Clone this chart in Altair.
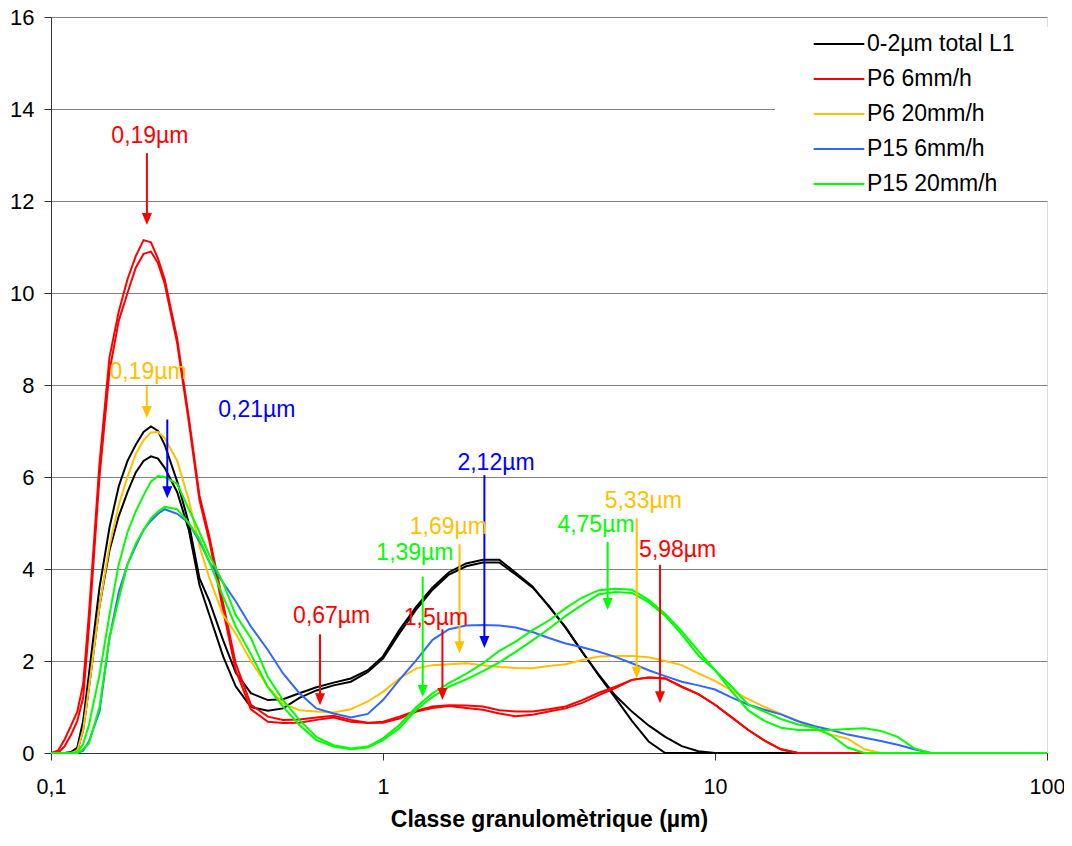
import altair as alt
import pandas as pd

FONT = "Liberation Sans, Arial, sans-serif"

# Particle size classes (µm)
X = [0.10, 0.105, 0.11, 0.115, 0.12, 0.125, 0.13, 0.14, 0.15, 0.16,
     0.17, 0.18, 0.19, 0.20, 0.21, 0.22, 0.24, 0.26, 0.28, 0.30,
     0.33, 0.36, 0.40, 0.45, 0.50, 0.56, 0.63, 0.71, 0.80, 0.90,
     1.00, 1.12, 1.26, 1.41, 1.58, 1.78, 2.00, 2.24, 2.51, 2.82,
     3.16, 3.55, 3.98, 4.47, 5.01, 5.62, 6.31, 7.08, 7.94, 8.91,
     10.0, 11.2, 12.6, 14.1, 15.8, 17.8, 20.0, 22.4, 25.1, 28.2,
     31.6, 35.5, 39.8, 44.7, 50.1, 100.0]

# 0-2µm total L1 (two replicates)
K1 = [0, 0, 0, 0.02, 0.12, 0.7, 1.7, 3.6, 4.9, 5.8,
      6.35, 6.7, 6.98, 7.1, 7.0, 6.7, 5.9, 5.0, 3.8, 3.3,
      2.45, 1.75, 1.3, 1.15, 1.17, 1.3, 1.43, 1.53, 1.62, 1.8,
      2.1, 2.67, 3.18, 3.6, 3.93, 4.12, 4.2, 4.2, 3.92, 3.62,
      3.18, 2.73, 2.2, 1.68, 1.2, 0.7, 0.25, 0, 0, 0,
      0, 0, 0, 0, 0, 0, 0, 0, 0, 0,
      0, 0, 0, 0, 0, 0]
K2 = [0, 0, 0, 0, 0.05, 0.5, 1.4, 3.2, 4.4, 5.15,
      5.67, 6.1, 6.35, 6.45, 6.4, 6.2, 5.67, 4.85, 3.65, 3.0,
      2.1, 1.45, 1.0, 0.92, 0.97, 1.2, 1.36, 1.47, 1.55, 1.76,
      2.05, 2.6, 3.12, 3.55, 3.88, 4.06, 4.14, 4.14, 3.88, 3.6,
      3.2, 2.72, 2.2, 1.7, 1.25, 0.9, 0.6, 0.35, 0.15, 0.04,
      0, 0, 0, 0, 0, 0, 0, 0, 0, 0,
      0, 0, 0, 0, 0, 0]
# P6 6mm/h
R1 = [0, 0.05, 0.3, 0.6, 0.9, 1.5, 3.0, 6.3, 8.6, 9.6,
      10.3, 10.8, 11.15, 11.1, 10.75, 10.3, 9.0, 7.3, 5.6, 4.7,
      3.25, 1.95, 1.05, 0.79, 0.72, 0.73, 0.77, 0.81, 0.72, 0.66,
      0.68, 0.79, 0.92, 1.01, 1.04, 1.03, 1.01, 0.93, 0.9, 0.9,
      0.95, 1.01, 1.15, 1.31, 1.44, 1.59, 1.64, 1.62, 1.44, 1.28,
      1.05, 0.78, 0.5, 0.27, 0.08, 0, 0, 0, 0, 0,
      0, 0, 0, 0, 0, 0]
R2 = [0, 0, 0.15, 0.4, 0.7, 1.2, 2.7, 6.0, 8.3, 9.4,
      10.0, 10.55, 10.85, 10.9, 10.65, 10.2, 8.9, 7.2, 5.5, 4.6,
      3.1, 1.8, 0.95, 0.68, 0.65, 0.66, 0.72, 0.77, 0.68, 0.65,
      0.66, 0.75, 0.9, 0.98, 1.02, 0.98, 0.94, 0.86, 0.8, 0.83,
      0.9, 0.97, 1.09, 1.26, 1.41, 1.59, 1.64, 1.62, 1.44, 1.28,
      1.05, 0.78, 0.5, 0.27, 0.08, 0, 0, 0, 0, 0,
      0, 0, 0, 0, 0, 0]
# P6 20mm/h
O1 = [0, 0, 0, 0, 0.05, 0.5, 1.4, 3.2, 4.5, 5.4,
      6.0, 6.5, 6.8, 6.97, 6.98, 6.85, 6.35, 5.5, 4.5, 3.8,
      3.0, 2.6, 2.0, 1.44, 1.08, 0.93, 0.9, 0.88, 0.95, 1.12,
      1.33, 1.62, 1.84, 1.91, 1.93, 1.95, 1.91, 1.87, 1.85, 1.84,
      1.89, 1.93, 2.02, 2.1, 2.11, 2.11, 2.08, 2.0, 1.91, 1.73,
      1.57, 1.36, 1.17, 1.0, 0.85, 0.69, 0.52, 0.4, 0.31, 0.08,
      0, 0, 0, 0, 0, 0]
# P15 6mm/h
B1 = [0, 0, 0, 0, 0, 0.05, 0.25, 0.9, 2.5, 3.5,
      4.1, 4.5, 4.85, 5.05, 5.2, 5.3, 5.2, 5.0, 4.6, 4.15,
      3.7, 3.3, 2.75, 2.24, 1.73, 1.3, 0.97, 0.86, 0.77, 0.85,
      1.15, 1.59, 2.02, 2.46, 2.69, 2.77, 2.78, 2.77, 2.73, 2.63,
      2.5, 2.38, 2.3, 2.2, 2.09, 1.95, 1.8, 1.67, 1.55, 1.47,
      1.38, 1.21, 1.05, 0.94, 0.84, 0.69, 0.58, 0.5, 0.4, 0.33,
      0.26, 0.18, 0.08, 0, 0, 0]
# P15 20mm/h (two replicates)
G1 = [0, 0, 0, 0, 0.02, 0.2, 0.6, 1.7, 3.0, 4.1,
      4.8, 5.25, 5.6, 5.9, 6.02, 6.0, 5.85, 5.3, 4.8, 4.3,
      3.7, 3.0, 2.5, 1.65, 1.15, 0.72, 0.35, 0.17, 0.1, 0.14,
      0.32, 0.61, 1.0, 1.3, 1.52, 1.72, 1.95, 2.22, 2.42, 2.67,
      2.88, 3.15, 3.38, 3.54, 3.57, 3.55, 3.33, 3.02, 2.65, 2.22,
      1.8, 1.35, 0.92, 0.7, 0.55, 0.5, 0.5, 0.5, 0.52, 0.54,
      0.48, 0.35, 0.1, 0, 0, 0]
G2 = [0, 0, 0, 0, 0, 0.08, 0.2, 1.0, 2.5, 3.35,
      4.1, 4.55, 4.85, 5.1, 5.25, 5.35, 5.3, 5.0, 4.65, 4.15,
      3.4, 2.75, 2.15, 1.43, 1.01, 0.61, 0.28, 0.14, 0.08, 0.12,
      0.28, 0.54, 0.94, 1.22, 1.44, 1.6, 1.78, 1.97, 2.2, 2.45,
      2.7, 2.98, 3.22, 3.45, 3.5, 3.48, 3.28, 2.98, 2.58, 2.12,
      1.8, 1.45, 1.05, 0.9, 0.74, 0.62, 0.55, 0.38, 0.12, 0,
      0, 0, 0, 0, 0, 0]

SERIES = ["0-2µm total L1", "P6 6mm/h", "P6 20mm/h", "P15 6mm/h", "P15 20mm/h"]
COLORS = ["#000000", "#FF0000", "#FFC000", "#3366FF", "#00FF00"]

CURVES = [(SERIES[0], "a", K1), (SERIES[0], "b", K2),
          (SERIES[1], "a", R1), (SERIES[1], "b", R2),
          (SERIES[2], "a", O1),
          (SERIES[3], "a", B1),
          (SERIES[4], "a", G1), (SERIES[4], "b", G2)]

rows = []
for name, rep, ys in CURVES:
    for xv, yv in zip(X, ys):
        rows.append({"x": xv, "y": yv, "serie": name, "curve": name + rep})
df = pd.DataFrame(rows)

# Mode annotations: label, colour, arrow x, arrow top, arrow tip, label x, label y
ANN_LABEL = ["0,19µm", "0,19µm", "0,21µm", "2,12µm", "1,69µm", "1,39µm",
             "1,5µm", "0,67µm", "4,75µm", "5,33µm", "5,98µm"]
ANN_COLOR = ["#FF0000", "#FFC000", "#0000FF", "#0000FF", "#FFC000", "#00FF00",
             "#FF0000", "#FF0000", "#00FF00", "#FFC000", "#FF0000"]
ANN_X = [0.1945, 0.1943, 0.224, 2.02, 1.70, 1.317, 1.51, 0.646, 4.75, 5.81, 6.83]
ANN_TOP = [13.04, 7.98, 7.25, 6.04, 4.54, 3.83, 2.69, 2.58, 4.59, 5.10, 4.09]
ANN_TIP = [11.48, 7.28, 5.54, 2.28, 2.17, 1.22, 1.15, 1.04, 3.11, 1.62, 1.08]
LAB_X = [0.1986, 0.196, 0.417, 2.19, 1.573, 1.248, 1.444, 0.7006, 4.38, 6.08, 7.72]
LAB_Y = [13.41, 8.28, 7.46, 6.30, 4.91, 4.34, 2.93, 2.98, 4.96, 5.48, 4.41]

ann = pd.DataFrame({
    "label": ANN_LABEL, "col": ANN_COLOR, "ax": ANN_X,
    "ytop": ANN_TOP, "ytip": ANN_TIP, "tx": LAB_X, "ty": LAB_Y,
})
ann["yline"] = ann["ytip"] + 0.15

xscale = alt.Scale(type="log", domain=[0.1, 100], nice=False)
yscale = alt.Scale(domain=[0, 16], nice=False, zero=True)

xaxis = alt.Axis(values=[0.1, 1, 10, 100],
                 labelExpr="replace(toString(datum.value), '.', ',')",
                 grid=False, tickSize=7, tickColor="#333333", domainColor="#333333",
                 labelFontSize=21.5, labelFont=FONT, labelColor="#000000",
                 labelPadding=16, labelFlush=False,
                 title="Classe granulomètrique (µm)", titleFont=FONT,
                 titleFontSize=23, titleFontWeight="bold", titleColor="#000000",
                 titlePadding=11)
yaxis = alt.Axis(values=list(range(0, 17, 2)), grid=True, gridColor="#808080",
                 gridWidth=1, tickSize=7, tickColor="#333333", domainColor="#333333",
                 labelFontSize=22, labelFont=FONT, labelColor="#000000",
                 labelPadding=10, title=None)

lines = alt.Chart(df).mark_line(strokeWidth=2).encode(
    x=alt.X("x:Q", scale=xscale, axis=xaxis),
    y=alt.Y("y:Q", scale=yscale, axis=yaxis),
    color=alt.Color("serie:N", scale=alt.Scale(domain=SERIES, range=COLORS),
                    legend=alt.Legend(orient="none", legendX=724, legendY=10,
                                      title=".", titleOpacity=0, titleOrient="right",
                                      titlePadding=34, titleFontSize=23,
                                      fillColor="white", padding=5,
                                      symbolOffset=47, symbolType="M-2.3,0L2.3,0",
                                      symbolSize=484, symbolStrokeWidth=2,
                                      labelFontSize=23, labelFont=FONT,
                                      labelColor="#000000", labelLimit=500,
                                      rowPadding=11, labelOffset=16)),
    detail="curve:N",
)

rules = alt.Chart(ann).mark_rule(strokeWidth=2).encode(
    x=alt.X("ax:Q", scale=xscale, axis=xaxis),
    y=alt.Y("ytop:Q", scale=yscale, axis=yaxis),
    y2="yline:Q",
    color=alt.Color("col:N", scale=None),
)

heads = alt.Chart(ann).mark_point(shape="M-1,-2.4L1,-2.4L0,0Z", size=100,
                                  filled=True, opacity=1, strokeWidth=0).encode(
    x=alt.X("ax:Q", scale=xscale, axis=xaxis),
    y=alt.Y("ytip:Q", scale=yscale, axis=yaxis),
    fill=alt.Color("col:N", scale=None),
)

labels = alt.Chart(ann).mark_text(fontSize=23, font=FONT, align="center",
                                  baseline="middle").encode(
    x=alt.X("tx:Q", scale=xscale, axis=xaxis),
    y=alt.Y("ty:Q", scale=yscale, axis=yaxis),
    text="label:N",
    color=alt.Color("col:N", scale=None),
)

chart = alt.layer(lines, rules, heads, labels).properties(
    width=996, height=736,
    autosize=alt.AutoSizeParams(type="none"),
    padding={"left": 43, "top": 9, "right": 17, "bottom": 81},
).configure_view(stroke="#808080", strokeWidth=1, fill="white").configure(
    background="white")

chart.save("out.html", embed_options={"renderer": "svg", "actions": False})
